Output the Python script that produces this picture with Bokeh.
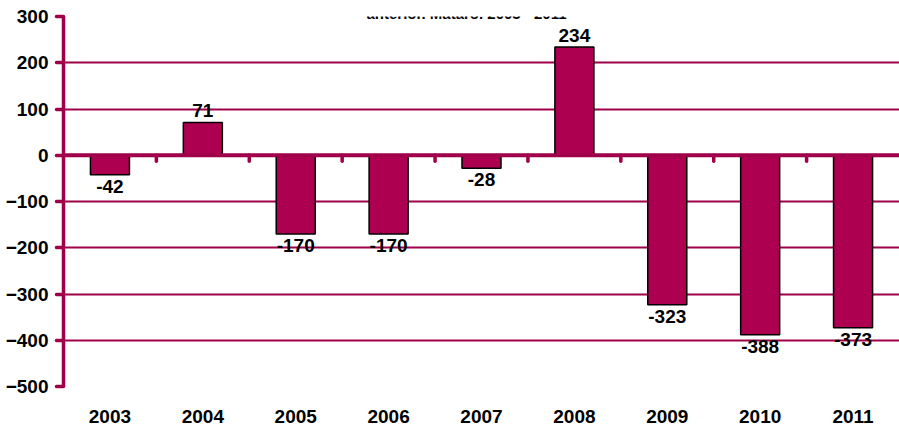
from bokeh.plotting import figure
from bokeh.models import ColumnDataSource, FactorRange, Range1d, FixedTicker, Span, Label
from bokeh.embed import file_html
from bokeh.resources import INLINE
from bokeh.core.properties import value

years = ["2003", "2004", "2005", "2006", "2007", "2008", "2009", "2010", "2011"]
values = [-42, 71, -170, -170, -28, 234, -323, -388, -373]
y_ticks = [-500, -400, -300, -200, -100, 0, 100, 200, 300]
title_text = "anterior. Mataró. 2003 - 2011"

BAR = "#AE0050"
AXIS = "#A0004A"
FONT = "Liberation Sans"

labels = [str(v) for v in values]
baselines = ["bottom" if v >= 0 else "top" for v in values]
offsets = [-5 if v >= 0 else 5 for v in values]

src = ColumnDataSource(dict(x=years, top=values, label=labels, base=baselines, off=offsets))

p = figure(width=899, height=428, x_range=FactorRange(*years, range_padding=0),
           y_range=Range1d(y_ticks[0], y_ticks[-1]),
           output_backend="svg", toolbar_location=None,
           min_border_left=63, min_border_right=0, min_border_top=16, min_border_bottom=42)
p.outline_line_color = None
p.background_fill_color = "white"
p.border_fill_color = "white"

# grid
p.xgrid.grid_line_color = None
p.ygrid.grid_line_color = AXIS
p.ygrid.grid_line_width = 2
p.ygrid.level = "underlay"
p.yaxis.ticker = FixedTicker(ticks=y_ticks)

# bars
p.vbar(x="x", top="top", bottom=0, width=0.42, source=src,
       fill_color=BAR, line_color="black", line_width=1.5)

# zero line and category tick marks
p.add_layout(Span(location=0, dimension="width", line_color=AXIS, line_width=4))
bounds = list(range(1, len(years)))
p.segment(x0=bounds, y0=[0] * len(bounds), x1=bounds, y1=[-13] * len(bounds),
          line_color=AXIS, line_width=3.5, line_cap="round")

# value labels
p.text(x="x", y="top", text="label", source=src, text_align="center",
       text_baseline="base", y_offset="off",
       text_font=value(FONT), text_font_style="bold", text_font_size="19px",
       text_color="black")

# y axis
p.yaxis.axis_line_color = AXIS
p.yaxis.axis_line_width = 3.5
p.yaxis.major_tick_line_color = AXIS
p.yaxis.major_tick_line_width = 3.5
p.yaxis.major_tick_line_cap = "round"
p.yaxis.major_tick_out = 7
p.yaxis.major_tick_in = 0
p.yaxis.minor_tick_line_color = None
p.yaxis.major_label_standoff = 8
p.yaxis.major_label_text_font = FONT
p.yaxis.major_label_text_font_style = "bold"
p.yaxis.major_label_text_font_size = "19px"
p.yaxis.major_label_text_color = "black"

# x axis (labels only)
p.xaxis.axis_line_color = None
p.xaxis.major_tick_line_color = None
p.xaxis.minor_tick_line_color = None
p.xaxis.major_label_standoff = 17
p.xaxis.major_label_text_font = FONT
p.xaxis.major_label_text_font_style = "bold"
p.xaxis.major_label_text_font_size = "19px"
p.xaxis.major_label_text_color = "black"

# title line (top of the original title, only its last line visible)
p.add_layout(Label(x=len(years) / 2, y=y_ticks[-1], x_offset=-15, y_offset=3,
                   text=title_text, text_align="center", text_baseline="alphabetic",
                   text_font=FONT, text_font_style="bold", text_font_size="15px",
                   text_color="black"))

open("out.html", "w").write(file_html(p, INLINE))
